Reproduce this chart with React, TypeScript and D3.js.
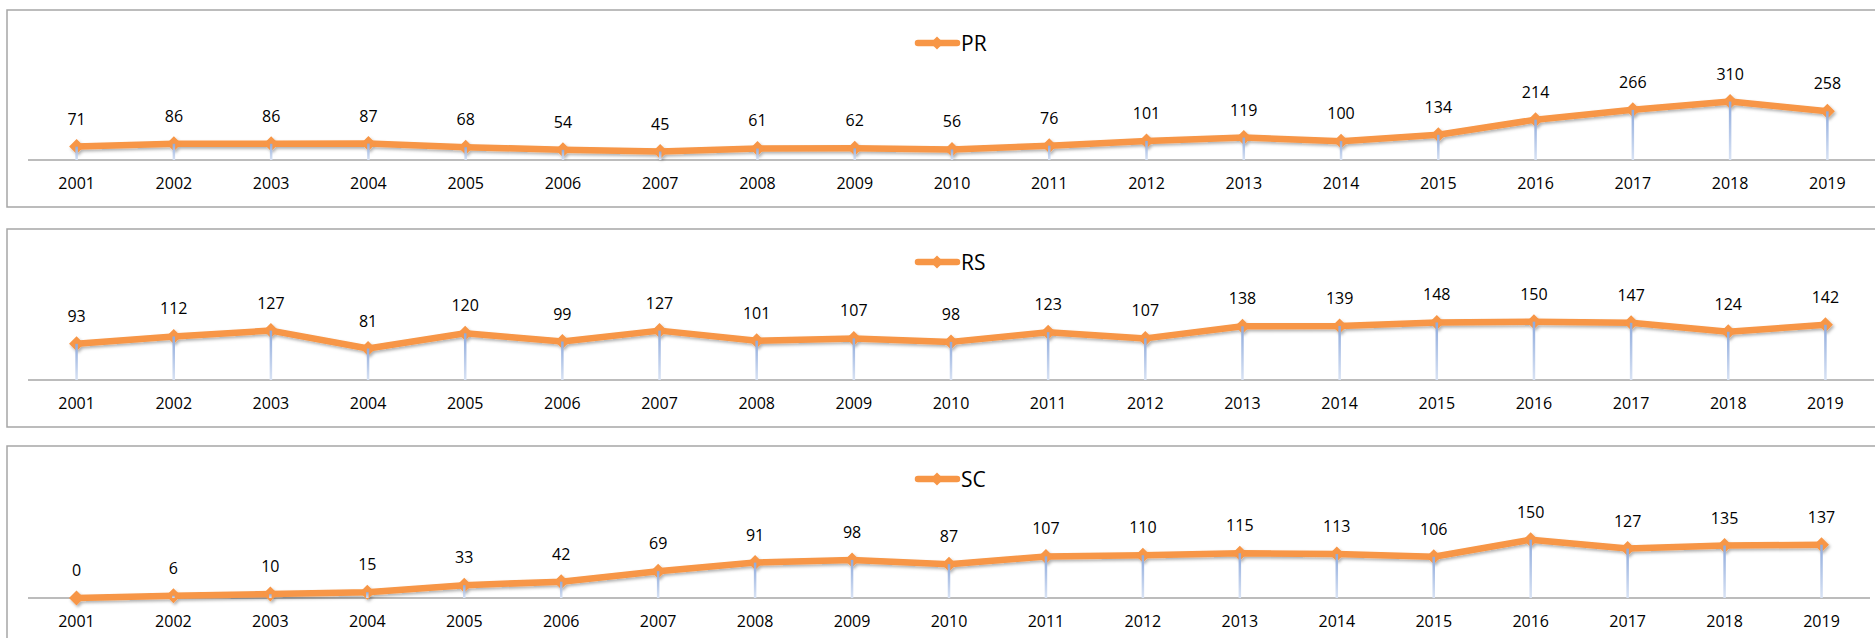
import * as d3 from "d3";

const years = [
  "2001", "2002", "2003", "2004", "2005", "2006", "2007", "2008", "2009", "2010",
  "2011", "2012", "2013", "2014", "2015", "2016", "2017", "2018", "2019",
];

const prValues = [71, 86, 86, 87, 68, 54, 45, 61, 62, 56, 76, 101, 119, 100, 134, 214, 266, 310, 258];
const rsValues = [93, 112, 127, 81, 120, 99, 127, 101, 107, 98, 123, 107, 138, 139, 148, 150, 147, 124, 142];
const scValues = [0, 6, 10, 15, 33, 42, 69, 91, 98, 87, 107, 110, 115, 113, 106, 150, 127, 135, 137];

const seriesNames = ["PR", "RS", "SC"];
const seriesValues = [prValues, rsValues, scValues];

// panel geometry (px)
const layout = [
  { top: 10, bottom: 207, axisY: 160, right: 1876, yMax: 350, plotH: 66, legendY: 43 },
  { top: 229, bottom: 427, axisY: 380, right: 1874, yMax: 180, plotH: 70, legendY: 262 },
  { top: 446, bottom: 700, axisY: 598, right: 1870, yMax: 180, plotH: 70, legendY: 479 },
];

const ORANGE = "#F79646";
const FONT = "'Open Sans', 'Noto Sans', sans-serif";
const diamond = (r: number) => `M0,${-r}L${r},0L0,${r}L${-r},0Z`;

const Panel = ({ name, values, geo }) => {
  const x = d3.scaleBand().domain(years).range([28, geo.right]);
  const cx = (i: number) => x(years[i]) + x.bandwidth() / 2;
  const y = d3.scaleLinear().domain([0, geo.yMax]).range([geo.axisY, geo.axisY - geo.plotH]);
  const line = d3
    .line<number>()
    .x((_, i) => cx(i))
    .y((d) => y(d));

  const legendX = 937;

  return (
    <g>
      <rect x={7} y={geo.top} width={1900} height={geo.bottom - geo.top} fill="#fff" stroke="#A6A6A6" strokeWidth={1.5} />
      {/* legend */}
      <line x1={legendX - 19} x2={legendX + 20} y1={geo.legendY} y2={geo.legendY} stroke={ORANGE} strokeWidth={6.5} strokeLinecap="round" />
      <path d={diamond(6.5)} transform={`translate(${legendX},${geo.legendY})`} fill={ORANGE} />
      <text x={legendX + 24} y={geo.legendY} dy="0.36em" fontFamily={FONT} fontSize={21} fill="#000">
        {name}
      </text>
      {/* axis */}
      <line x1={28} x2={geo.right} y1={geo.axisY} y2={geo.axisY} stroke="#A6A6A6" strokeWidth={1.5} />
      {years.map((yr, i) => (
        <text key={yr} x={cx(i)} y={geo.axisY + 23} dy="0.36em" textAnchor="middle" fontFamily={FONT} fontSize={16} fill="#000">
          {yr}
        </text>
      ))}
      {/* series */}
      <g filter="url(#shadow)">
        <path d={line(values)} fill="none" stroke={ORANGE} strokeWidth={6.5} strokeLinejoin="round" />
        {values.map((v, i) => (
          <path key={i} d={diamond(7.5)} transform={`translate(${cx(i)},${y(v)})`} fill={ORANGE} />
        ))}
      </g>
      {/* drop lines */}
      {values.map((v, i) => (
        <rect key={i} x={cx(i) - 1.25} y={y(v)} width={2.5} height={geo.axisY - y(v)} fill="url(#drop)" />
      ))}
      {values.map((v, i) => (
        <text key={i} x={cx(i)} y={y(v) - 22} textAnchor="middle" fontFamily={FONT} fontSize={16} fill="#000">
          {v}
        </text>
      ))}
    </g>
  );
};

export default function App() {
  return (
    <svg width={1875} height={638} style={{ position: "absolute", left: 0, top: 0, display: "block" }}>
      <defs>
        <filter id="shadow" x="-10%" y="-50%" width="120%" height="200%">
          <feDropShadow dx={1.5} dy={2} stdDeviation={1.5} floodColor="#000" floodOpacity={0.3} />
        </filter>
        <linearGradient id="drop" x1="0" y1="0" x2="0" y2="1">
          <stop offset="0" stopColor="#8EAADC" />
          <stop offset="1" stopColor="#D9E3F4" />
        </linearGradient>
      </defs>
      <rect width={1875} height={638} fill="#fff" />
      {seriesNames.map((n, k) => (
        <Panel key={n} name={n} values={seriesValues[k]} geo={layout[k]} />
      ))}
    </svg>
  );
}
